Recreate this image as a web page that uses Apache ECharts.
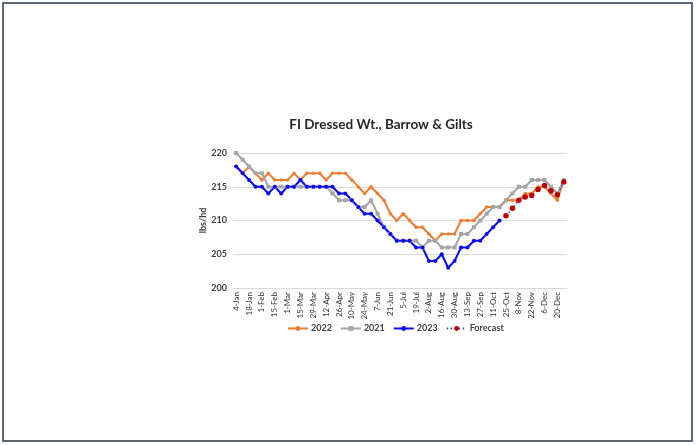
<!DOCTYPE html>
<html>
<head>
<meta charset="utf-8">
<script src="https://cdn.jsdelivr.net/npm/echarts@6/dist/echarts.min.js"></script>
<style>
html,body{margin:0;padding:0;background:#fff;}
#c{width:696px;height:445px;}
</style>
</head>
<body>
<div id="c"></div>
<script>
var weeks = ["4-Jan","11-Jan","18-Jan","25-Jan","1-Feb","8-Feb","15-Feb","22-Feb","1-Mar","8-Mar","15-Mar","22-Mar","29-Mar","5-Apr","12-Apr","19-Apr","26-Apr","3-May","10-May","17-May","24-May","31-May","7-Jun","14-Jun","21-Jun","28-Jun","5-Jul","12-Jul","19-Jul","26-Jul","2-Aug","9-Aug","16-Aug","23-Aug","30-Aug","6-Sep","13-Sep","20-Sep","27-Sep","4-Oct","11-Oct","18-Oct","25-Oct","1-Nov","8-Nov","15-Nov","22-Nov","29-Nov","6-Dec","13-Dec","20-Dec","27-Dec"];

var y2022 = [218,217,218,217,216,217,216,216,216,217,216,217,217,217,216,217,217,217,216,215,214,215,214,213,211,210,211,210,209,209,208,207,208,208,208,210,210,210,211,212,212,212,213,213,213,214,214,215,215,214,213,216];

var y2021 = [220,219,218,217,217,215,215,215,215,215,215,215,215,215,215,214,213,213,213,212,212,213,211,209,208,207,207,207,207,206,207,207,206,206,206,208,208,209,210,211,212,212,213,214,215,215,216,216,216,215,214,216];

var y2023 = [218,217,216,215,215,214,215,214,215,215,216,215,215,215,215,215,214,214,213,212,211,211,210,209,208,207,207,207,206,206,204,204,205,203,204,206,206,207,207,208,209,210,null,null,null,null,null,null,null,null,null,null];

var forecast = [null,null,null,null,null,null,null,null,null,null,null,null,null,null,null,null,null,null,null,null,null,null,null,null,null,null,null,null,null,null,null,null,null,null,null,null,null,null,null,null,null,null,210.7,211.8,213.0,213.5,213.7,214.6,215.2,214.4,213.8,215.7];

var yTicks = [200, 205, 210, 215, 220];

var chart = echarts.init(document.getElementById('c'), null, {renderer:'canvas'});
var FONT = 'Lato';
chart.setOption({
  backgroundColor: '#ffffff',
  animation: false,
  graphic: [{
    type: 'rect',
    shape: {x: 3, y: 3, width: 689, height: 438},
    style: {fill: 'none', stroke: '#5d6872', lineWidth: 2},
    silent: true
  }],
  title: {
    text: 'FI Dressed Wt., Barrow & Gilts',
    left: 376, top: 113, textAlign: 'center',
    textStyle: {fontFamily: FONT, fontSize: 13.5, fontWeight: 'bold', color: '#262626'}
  },
  legend: {
    top: 319, left: 282, orient: 'horizontal',
    itemWidth: 20, itemHeight: 6, itemGap: 8,
    textStyle: {fontFamily: FONT, fontSize: 9, fontWeight: 'bold', color: '#404040', padding: [0,0,0,-2]},
    data: ['2022','2021','2023','Forecast']
  },
  grid: {left: 233, right: 129, top: 153, bottom: 157, containLabel: false},
  xAxis: {
    type: 'category',
    data: weeks,
    boundaryGap: true,
    axisLine: {show: true, lineStyle: {color: '#d9d9d9', width: 1}},
    axisTick: {show: false},
    axisLabel: {
      interval: 1, rotate: 90, fontFamily: FONT, fontSize: 8, color: '#333333', margin: 4
    },
    splitLine: {show: false}
  },
  yAxis: {
    type: 'value',
    min: yTicks[0], max: yTicks[yTicks.length-1], interval: 5,
    name: 'lbs/hd', nameLocation: 'middle', nameGap: 24, nameRotate: 90,
    nameTextStyle: {fontFamily: FONT, fontSize: 9, fontWeight: 'bold', color: '#404040'},
    axisLine: {show: false},
    axisTick: {show: false},
    axisLabel: {fontFamily: FONT, fontSize: 9, fontWeight: 'bold', color: '#404040', margin: 6},
    splitLine: {show: true, lineStyle: {color: '#d9d9d9', width: 1}}
  },
  series: [
    {
      name: '2022', type: 'line', data: y2022, showAllSymbol: true,
      symbol: 'circle', symbolSize: 3.5,
      lineStyle: {color: '#ED7D31', width: 2},
      itemStyle: {color: '#ED7D31'}
    },
    {
      name: '2021', type: 'line', data: y2021, showAllSymbol: true,
      symbol: 'rect', symbolSize: 4,
      lineStyle: {color: '#A5A5A5', width: 2},
      itemStyle: {color: '#A5A5A5'}
    },
    {
      name: '2023', type: 'line', data: y2023, showAllSymbol: true,
      symbol: 'circle', symbolSize: 4,
      lineStyle: {color: '#0A0AF0', width: 2},
      itemStyle: {color: '#0A0AF0'}
    },
    {
      name: 'Forecast', type: 'line', data: forecast, showAllSymbol: true,
      symbol: 'circle', symbolSize: 5.5,
      lineStyle: {color: '#3050E0', width: 1.5, type: [1.5, 2.5]},
      itemStyle: {color: '#C00000'}
    }
  ]
});
</script>
</body>
</html>
